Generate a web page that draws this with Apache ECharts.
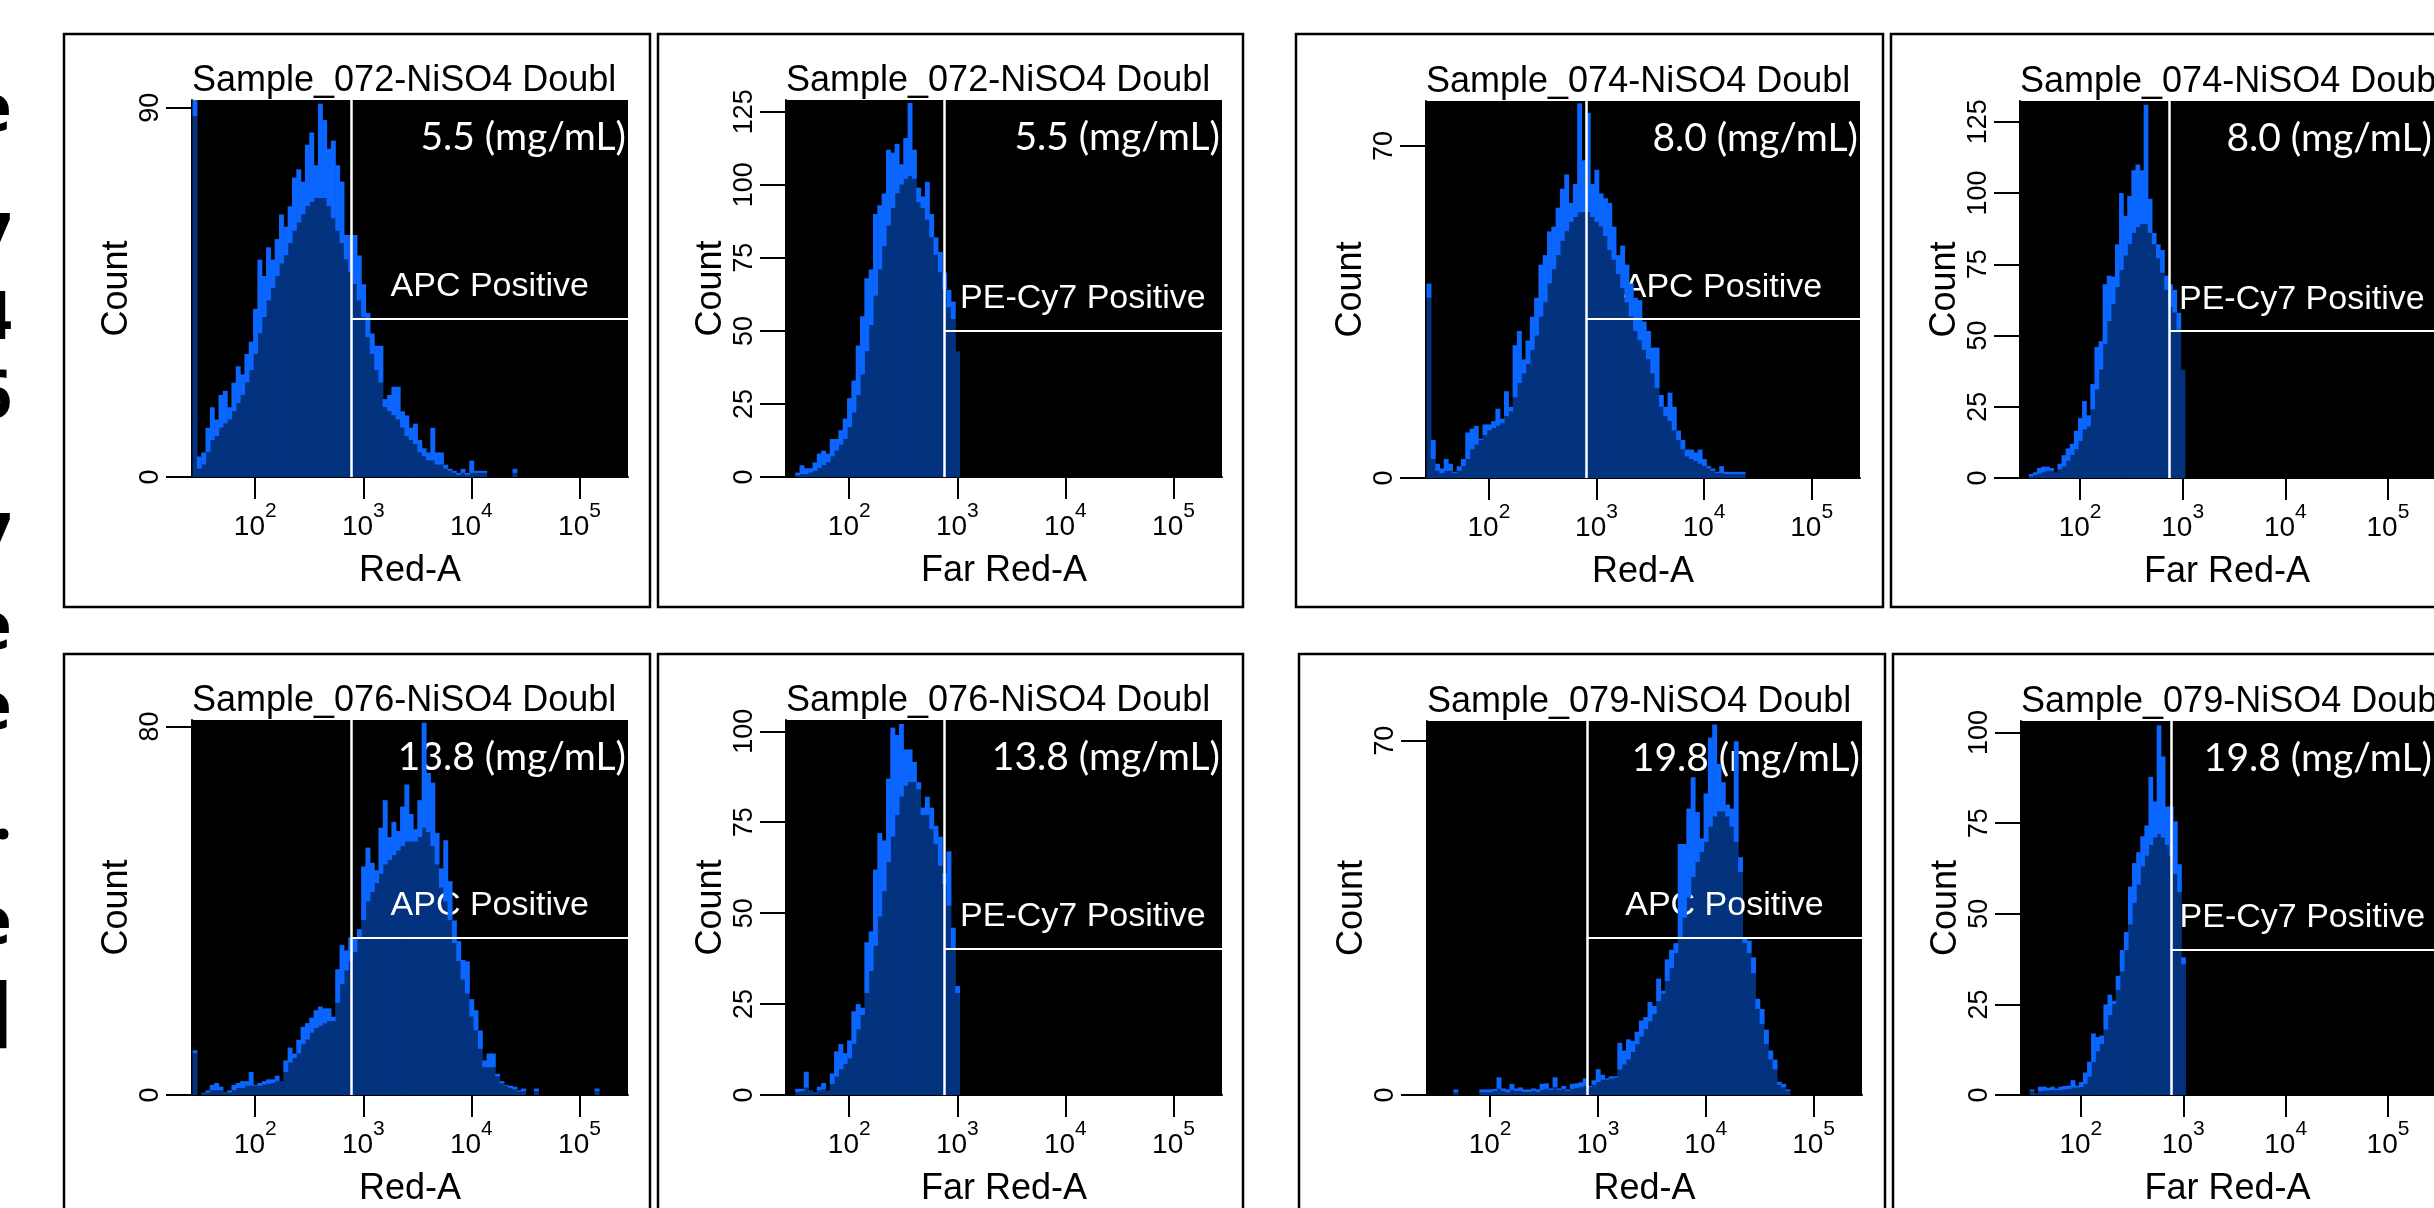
<!DOCTYPE html>
<html><head><meta charset="utf-8">
<script src="https://cdn.jsdelivr.net/npm/echarts@6/dist/echarts.min.js"></script>
<style>html,body{margin:0;padding:0;background:#fff}#c{width:2434px;height:1208px}</style>
</head><body><div id="c"></div>
<script>
const W = 2434, H = 1208;
const BLUE = '#0a66ff', NAVY = '#03337f';
const F_PIX = "'Liberation Sans', Arial, sans-serif";
const F_NUM = "'Liberation Sans Narrow', 'Liberation Sans', sans-serif";
const F_CONC = "Lato, 'Open Sans', sans-serif";

// ---- shared axis values (log10 of fluorescence) ----
const BIN = 0.04;
const X_MIN = 1.415, X_MAX = 5.449;
const xTickExp = [2, 3, 4, 5];
const channelNames = ['Red-A', 'Far Red-A'];
const gateNames = ['APC Positive', 'PE-Cy7 Positive'];
const sampleIds = ['072', '074', '076', '079'];
const concLabels = ['5.5 (mg/mL)', '8.0 (mg/mL)', '13.8 (mg/mL)', '19.8 (mg/mL)'];

// ---- Sample 072 ----  (Counts = outer histogram, Fill = dark inner histogram)
const s072RedStart = 1.44;
const s072RedCounts = [92,5,6,12,17,14,20,21,17,23,27,25,30,33,41,53,49,56,53,58,64,61,66,73,75,72,81,84,76,91,87,80,82,76,72,59,59,59,54,47,40,35,32,32,19,20,22,22,16,15,12,13,9,7,6,12,6,6,3,2,1.5,1,2,1,4,1.5,1.5,1.5,0,0,0,0,0,0,2,0];
const s072RedFill   = [88,2,3,6,9,10,12,13,14,16,18,20,23,26,30,35,39,43,46,49,52,54,57,60,62,64,66,67,68,68,68,66,63,60,57,53,50,47,43,39,34,30,26,23,17,16,15,14,12,10,9,8,6,5,4,4,3,3,2,1.5,1,0.5,1,0.5,1,1,1,1,0,0,0,0,0,0,1,0];
const s072RedYMax = 91.9, s072RedYTicks = [0, 90], s072RedGate = [2.891, 38.6];

const s072FarStart = 1.52;
const s072FarCounts = [1.5,4,3,3,5,8,9,8,13,13,16,20,27,33,45,55,68,71,90,93,97,112,111,114,107,116,128,112,99,96,101,90,82,77,70,64,60,43];
const s072FarFill   = [0.5,1,1,1.5,2,3,4,5,7,9,11,13,17,22,28,35,43,52,62,71,79,86,92,97,100,102,103,102,94,92,88,82,76,70,64,58,54,43];
const s072FarYMax = 129, s072FarYTicks = [0, 25, 50, 75, 100, 125], s072FarGate = [2.875, 50.2];

// ---- Sample 074 ----
const s074RedStart = 1.44;
const s074RedCounts = [41,8,3,2,4,3,1.3,2.5,4,9.6,10.4,11,8.3,11.3,11.3,12,14.6,12.5,18.3,15,28,31,25,29,34,38,45,47,52,53,57,61,64,58,62,79,67,77,62,65,60,59,58,53,47,49,45,41,38,37.5,33,31,27.5,27.5,17.5,15,18,15,10,8,6,6,5.4,6,4,2.5,2,1.3,2.5,1.3,1.3,1.3,1.3,1.3];
const s074RedFill   = [38,4,1.5,1,1.5,1.5,1,1.5,2.5,4,6,7,8,9,10,10.5,11,11.5,13,14,17,20,22,24,27,30,34,37,41,44,47,50,52,54,55,56,56,56,55,54,53,51,48,46,43,40,37,34,31,29,27,25,22,19,15,13,12,10,8,6,4.5,4,3.5,3,2.5,2,1.5,1,1,0.8,0.8,0.8,0.8,0.8];
const s074RedYMax = 79.5, s074RedYTicks = [0, 70], s074RedGate = [2.901, 33.5];

const s074FarStart = 1.52;
const s074FarCounts = [1.4,2,3.5,4,4,3.5,2,5,8,10.4,12,16.6,21,27,22,33,46,48,68,71,70.7,82,100,92,99,108,110,108,131,98,86,82,80,71,68,66,58,38];
const s074FarFill   = [0.5,1,1.5,2,2.5,2.5,2,3,4,6,8,10,13,17,18,24,31,38,47,55,61,67,73,78,82,86,88,89,89,86,82,77,72,66,60,58,52,38];
const s074FarYMax = 132.3, s074FarYTicks = [0, 25, 50, 75, 100, 125], s074FarGate = [2.873, 51.5];

// ---- Sample 076 ----
const s076RedStart = 1.44;
const s076RedCounts = [9.7,0,0.5,1,2.2,2.6,1.8,0.6,1,2.2,2.6,3,3,5,2.2,2.6,3,3.4,3.4,4.2,3,7.5,10.3,9,12,14.8,15.6,16.8,18.4,19.2,18.8,18.8,17,27.3,32.6,31.4,34.2,34.2,36,49.6,53.7,50.4,48.8,58,64,56,59.3,57.3,62.6,67.4,61,57.7,64,80.8,69.9,67.8,56.9,49.2,55.3,46.4,37.9,33.4,29.3,29,20.8,18.4,14,7.5,9,9,4.6,3,2.2,2,1.8,1,1.4,0,0,1.4,0,0,0,0,0,0,0,0,0,0,0,0,0,1.4,0];
const s076RedFill   = [9,0,0.3,0.5,1,1,1,0.5,0.5,1,1.5,1.5,2,2,2,2,2.2,2.4,2.6,3,3,5,7,8,9,11,12,13.5,14.5,15,15.5,16,16,20,24,27,29,31,34,38,42,44,46,48,50,51,52,53,54,55,55,55,56,58,57,54,50,45,42,38,33,29,25,22,17,14,10,6,6,6,4,2.5,2,1.5,1.2,0.7,0.8,0,0,0.8,0,0,0,0,0,0,0,0,0,0,0,0,0,0.8,0];
const s076RedYMax = 81.4, s076RedYTicks = [0, 80], s076RedGate = [2.891, 34.2];

const s076FarStart = 1.52;
const s076FarCounts = [1.7,1.7,6.4,1.2,0.7,2.3,3.3,1.2,5.9,12,14,11.5,15,23,25,24,42,45,62,72,70,87,101,99,102,95,95,91.6,86,79,82,79,74,71,61,67,46,30];
const s076FarFill   = [0.8,1,2,1,0.5,1.2,1.5,1.2,3,5,7,8.5,10,14,18,22,28,34,41,49,56,64,71,77,82,85,86,86,84,77,77,73,69,63,58,52,40,28];
const s076FarYMax = 103.1, s076FarYTicks = [0, 25, 50, 75, 100], s076FarGate = [2.875, 40.2];

// ---- Sample 079 ----
const s079RedStart = 1.68;
const s079RedCounts = [1.1,0,0,0,0,0,1.1,1.1,1.1,1.2,3.5,1.3,1.1,2.2,1.3,1.5,1.1,1.1,1.3,1.1,2.2,2.3,1.3,3.5,1.3,1.8,1.1,2.2,2.3,2.5,3.3,1.8,2.9,5.1,4,3.3,3.7,3.7,10.3,8.8,11,10.7,12.5,14.7,15.4,18.4,17.6,23,20.6,26.8,28.7,30,49.6,49.6,56.6,62.8,55.9,50.7,59.6,70.6,73.2,65.4,61.8,57.4,56.6,69.9,47,30.9,30.5,27.2,19,17,12.9,8.8,7,2.6,2.2,1.1];
const s079RedFill   = [0.5,0,0,0,0,0,0.5,0.5,0.5,0.8,1.2,0.8,0.5,1,0.8,0.8,0.6,0.6,0.8,0.6,1,1.2,1,1.5,1,1.2,0.8,1.2,1.4,1.5,1.8,1.5,2,2.5,3,3,3.2,3.4,5,6,7,8.5,10,11.5,13,14.5,16,18.5,20,22.5,25,28,31,35,39,43,46,48,50,53,55,56,56,55,53,50,44,30,28,24,17,14,10,7,5,2,1.5,0.8];
const s079RedYMax = 73.9, s079RedYTicks = [0, 70], s079RedGate = [2.897, 31.0];

const s079FarStart = 1.52;
const s079FarCounts = [1.5,0.5,2.3,2.3,2,2.3,1.8,2.3,2.5,2.6,4.1,2.6,3.6,6.2,9.2,17,16,16.4,25,27.7,26,32.9,40,45,57.5,64,67,71.4,74.4,87.8,81,102,93.4,79.6,79.6,75.5,63.7,38];
const s079FarFill   = [1,0.5,1,1.2,1.2,1.3,1.3,1.4,1.5,1.6,2,2,2.2,3,5,9,12,14,18,22,25,29,34,40,47,53,58,63,66,69,71,72,71,69,66,61,56,36];
const s079FarYMax = 103.2, s079FarYTicks = [0, 25, 50, 75, 100], s079FarGate = [2.878, 40.2];

// ---- panel table (built from the named arrays) ----
const panels = [
  {s:0, ch:0, start:s072RedStart, counts:s072RedCounts, fill:s072RedFill, yMax:s072RedYMax, yTicks:s072RedYTicks, gate:s072RedGate},
  {s:0, ch:1, start:s072FarStart, counts:s072FarCounts, fill:s072FarFill, yMax:s072FarYMax, yTicks:s072FarYTicks, gate:s072FarGate},
  {s:1, ch:0, start:s074RedStart, counts:s074RedCounts, fill:s074RedFill, yMax:s074RedYMax, yTicks:s074RedYTicks, gate:s074RedGate},
  {s:1, ch:1, start:s074FarStart, counts:s074FarCounts, fill:s074FarFill, yMax:s074FarYMax, yTicks:s074FarYTicks, gate:s074FarGate},
  {s:2, ch:0, start:s076RedStart, counts:s076RedCounts, fill:s076RedFill, yMax:s076RedYMax, yTicks:s076RedYTicks, gate:s076RedGate},
  {s:2, ch:1, start:s076FarStart, counts:s076FarCounts, fill:s076FarFill, yMax:s076FarYMax, yTicks:s076FarYTicks, gate:s076FarGate},
  {s:3, ch:0, start:s079RedStart, counts:s079RedCounts, fill:s079RedFill, yMax:s079RedYMax, yTicks:s079RedYTicks, gate:s079RedGate},
  {s:3, ch:1, start:s079FarStart, counts:s079FarCounts, fill:s079FarFill, yMax:s079FarYMax, yTicks:s079FarYTicks, gate:s079FarGate}
];

// ---- layout (pixels) ----
const layouts = [
  {grid:{left:192, top:100, width:436, height:377}, box:[64,34,586,573]},
  {grid:{left:786, top:100, width:436, height:377}, box:[658,34,585,573]},
  {grid:{left:1426,top:101, width:434, height:377}, box:[1296,34,587,573]},
  {grid:{left:2020,top:101, width:435, height:377}, box:[1891,34,600,573]},
  {grid:{left:192, top:720, width:436, height:377}, box:[64,654,586,573]},
  {grid:{left:786, top:720, width:436, height:377}, box:[658,654,585,573]},
  {grid:{left:1427,top:721, width:435, height:377}, box:[1299,654,586,573]},
  {grid:{left:2021,top:721, width:435, height:377}, box:[1893,654,600,573]}
];

// Partially visible large characters at the left page edge: [char, centre y, x, font size]
const leftGlyphs = [['e',112,12,66],['7',242,12,66],['4',320,12,66],['6',399,12,66],['7',542,12,66],
                    ['e',630,12,66],['e',710,12,66],['.',820,12,66],['e',925,12,66],['l',1022,13,90]];

function binCentre(start, i) { return +(start + i * BIN).toFixed(3); }

function rectItem(color) {
  return function (params, api) {
    const x = api.value(0), lo = api.value(1), hi = api.value(2);
    if (!(hi > lo)) return null;
    const a = api.coord([x - BIN / 2, hi]);
    const b = api.coord([x + BIN / 2, lo]);
    return {type: 'rect', shape: {x: a[0], y: a[1], width: b[0] - a[0] + 0.6, height: b[1] - a[1]}, style: {fill: color}};
  };
}

const chart = echarts.init(document.getElementById('c'), null, {renderer: 'canvas', width: W, height: H});

const grids = [], xAxes = [], yAxes = [], series = [], titles = [], graphics = [];
panels.forEach((p, i) => {
  const L = layouts[i];
  grids.push(Object.assign({show: true, backgroundColor: '#000', borderWidth: 0, containLabel: false}, L.grid));
  titles.push({
    text: 'Sample_' + sampleIds[p.s] + '-NiSO4 Doublets', left: L.grid.left, top: L.grid.top - 37, padding: 0,
    textStyle: {fontFamily: F_PIX, fontSize: 36, fontWeight: 'normal', color: '#000', width: L.grid.width + 4, overflow: 'truncate', ellipsis: ''}
  });
  xAxes.push({
    gridIndex: i, type: 'value', min: X_MIN, max: X_MAX,
    splitLine: {show: false},
    axisLine: {show: true, lineStyle: {color: '#000', width: 2}},
    axisTick: {show: true, customValues: xTickExp, length: 22, lineStyle: {color: '#000', width: 2}},
    axisLabel: {
      show: true, customValues: xTickExp, margin: 24,
      formatter: v => '{b|10}{s|' + v + '}',
      rich: {
        b: {fontFamily: F_NUM, fontSize: 28, color: '#000', lineHeight: 40, verticalAlign: 'bottom'},
        s: {fontFamily: F_NUM, fontSize: 21, color: '#000', lineHeight: 12, verticalAlign: 'top'}
      }
    },
    name: channelNames[p.ch], nameLocation: 'middle', nameGap: 76,
    nameTextStyle: {fontFamily: F_PIX, fontSize: 36, color: '#000'}
  });
  yAxes.push({
    gridIndex: i, type: 'value', min: 0, max: p.yMax,
    splitLine: {show: false},
    axisLine: {show: true, lineStyle: {color: '#000', width: 2}},
    axisTick: {show: true, customValues: p.yTicks, length: 26, lineStyle: {color: '#000', width: 2}},
    axisLabel: {show: true, customValues: p.yTicks, rotate: 90, margin: 28, fontFamily: F_NUM, fontSize: 27, color: '#000'},
    name: 'Count', nameLocation: 'middle', nameGap: 57, nameRotate: 90,
    nameTextStyle: {fontFamily: F_PIX, fontSize: 36, color: '#000'}
  });
  // dark inner histogram: bars from 0 to Fill
  series.push({
    type: 'custom', xAxisIndex: i, yAxisIndex: i, z: 2, silent: true, clip: true,
    encode: {x: 0, y: [1, 2]},
    data: p.fill.map((v, k) => [binCentre(p.start, k), 0, v]),
    renderItem: rectItem(NAVY)
  });
  // bright outer part: bars from Fill up to Counts
  series.push({
    type: 'custom', xAxisIndex: i, yAxisIndex: i, z: 4, silent: true, clip: true,
    encode: {x: 0, y: [1, 2]},
    data: p.counts.map((v, k) => [binCentre(p.start, k), p.fill[k], v]),
    renderItem: rectItem(BLUE)
  });
  // gate lines (white) drawn over the histogram
  series.push({
    type: 'line', xAxisIndex: i, yAxisIndex: i, z: 5, silent: true, symbol: 'none',
    data: p.counts.map((v, k) => [binCentre(p.start, k), v]),
    lineStyle: {opacity: 0},
    markLine: {
      silent: true, symbol: ['none', 'none'], animation: false, label: {show: false},
      lineStyle: {color: '#fff', width: 2, type: 'solid'},
      data: [
        {xAxis: p.gate[0], lineStyle: {color: '#fff', width: 2.5, type: 'solid'}},
        [{coord: [p.gate[0], p.gate[1]]}, {coord: [X_MAX, p.gate[1]]}]
      ]
    }
  });
  graphics.push({type: 'rect', z: 0, silent: true, shape: {x: L.box[0], y: L.box[1], width: L.box[2], height: L.box[3]},
    style: {fill: 'none', stroke: '#000', lineWidth: 2.5}});
});

leftGlyphs.forEach(g => {
  graphics.push({type: 'text', x: g[2], y: g[1], z: 1, silent: true,
    style: {text: g[0], fill: '#000', font: 'bold ' + g[3] + 'px "Noto Sans", sans-serif', textAlign: 'right', textVerticalAlign: 'middle'}});
});

chart.setOption({
  animation: false,
  backgroundColor: '#fff',
  title: titles, grid: grids, xAxis: xAxes, yAxis: yAxes, series: series, graphic: graphics
});

// White gate labels and concentration labels, positioned via the chart's own scales
panels.forEach((p, i) => {
  const a = chart.convertToPixel({gridIndex: i}, [p.gate[0], p.gate[1]]);
  const b = chart.convertToPixel({gridIndex: i}, [X_MAX, p.yMax]);
  graphics.push({type: 'text', x: (a[0] + b[0]) / 2, y: a[1] - 32, z: 3, silent: true,
    style: {text: gateNames[p.ch], fill: '#fff', font: '34px ' + F_PIX, textAlign: 'center', textVerticalAlign: 'middle'}});
  graphics.push({type: 'text', x: b[0] - 2, y: b[1] + 37, z: 3, silent: true,
    style: {text: concLabels[p.s], fill: '#fff', font: '39px ' + F_CONC, textAlign: 'right', textVerticalAlign: 'middle'}});
});
chart.setOption({graphic: graphics});
</script></body></html>
